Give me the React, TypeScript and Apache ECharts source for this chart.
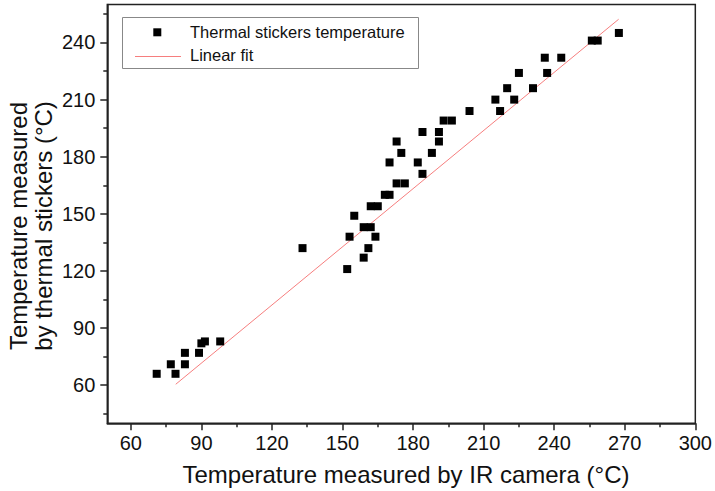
import React, { useEffect, useRef } from "react";
import * as echarts from "echarts";

// IR camera temperature (x) and thermal sticker temperature (y)
const irCamera = [
  71, 77, 79, 83, 83, 89, 90, 91.5, 98,
  133,
  152, 153, 155, 159, 161, 159, 162, 164, 162, 165,
  168, 170, 173, 176.5, 170, 175, 173, 182, 184, 184, 188, 191, 191, 193, 196.5,
  204, 215, 217, 220, 223, 225, 231, 236, 237, 243, 256, 258.5, 267.5,
];
const stickers = [
  66, 71, 66, 71, 77, 77, 82, 83, 83,
  132,
  121, 138, 149, 127, 132, 143, 143, 138, 154, 154,
  160, 160, 166, 166, 177, 182, 188, 177, 171, 193, 182, 188, 193, 199, 199,
  204, 210, 204, 216, 210, 224, 216, 232, 224, 232, 241, 241, 245,
];
// linear fit end points
const fitX = [79.1, 267.4];
const fitY = [60.5, 252.2];

const xMajorTicks = [60, 90, 120, 150, 180, 210, 240, 270, 300];
const xMinorTicks = [75, 105, 135, 165, 195, 225, 255, 285];
const yMajorTicks = [60, 90, 120, 150, 180, 210, 240];
const yMinorTicks = [45, 75, 105, 135, 165, 195, 225, 255];

const FONT = "'Liberation Sans', Arial, sans-serif";
const AXIS = "#222";
const FIT = "rgba(240,40,40,0.6)";

export default function App() {
  const ref = useRef<HTMLDivElement>(null);
  useEffect(() => {
    if (!ref.current) return;
    const chart = echarts.init(ref.current, null, { renderer: "svg" });
    const scatterData = irCamera.map((x, i) => [x, stickers[i]]);
    const fitData = fitX.map((x, i) => [x, fitY[i]]);
    const labelStyle = { fontSize: 20, color: "#111", fontFamily: FONT };
    chart.setOption({
      animation: false,
      backgroundColor: "#fff",
      grid: {
        left: 107.3,
        right: 17.7,
        top: 4.4,
        bottom: 67.7,
        show: true,
        borderColor: AXIS,
        borderWidth: 1.5,
        backgroundColor: "transparent",
      },
      xAxis: [
        {
          type: "value",
          min: 50,
          max: 300,
          position: "bottom",
          axisLine: { show: true, onZero: false, lineStyle: { color: AXIS, width: 1.5 } },
          axisTick: { show: true, inside: false, length: 7, lineStyle: { color: AXIS, width: 1.5 }, customValues: xMajorTicks },
          axisLabel: { ...labelStyle, margin: 10, customValues: xMajorTicks },
          splitLine: { show: false },
        },
        {
          type: "value",
          min: 50,
          max: 300,
          position: "bottom",
          axisLine: { show: false, onZero: false },
          axisTick: { show: true, inside: false, length: 4, lineStyle: { color: AXIS, width: 1.5 }, customValues: xMinorTicks },
          axisLabel: { show: false },
          splitLine: { show: false },
        },
      ],
      yAxis: [
        {
          type: "value",
          min: 40,
          max: 260,
          position: "left",
          axisLine: { show: true, onZero: false, lineStyle: { color: AXIS, width: 1.5 } },
          axisTick: { show: true, inside: false, length: 7, lineStyle: { color: AXIS, width: 1.5 }, customValues: yMajorTicks },
          axisLabel: { ...labelStyle, margin: 12, customValues: yMajorTicks },
          splitLine: { show: false },
        },
        {
          type: "value",
          min: 40,
          max: 260,
          position: "left",
          axisLine: { show: false, onZero: false },
          axisTick: { show: true, inside: false, length: 4, lineStyle: { color: AXIS, width: 1.5 }, customValues: yMinorTicks },
          axisLabel: { show: false },
          splitLine: { show: false },
        },
      ],
      series: [
        {
          name: "Linear fit",
          type: "line",
          data: fitData,
          showSymbol: false,
          symbol: "none",
          lineStyle: { color: FIT, width: 1 },
          z: 3,
        },
        {
          name: "Thermal stickers temperature",
          type: "scatter",
          data: scatterData,
          symbol: "rect",
          symbolSize: 8,
          itemStyle: { color: "#000", opacity: 1 },
          z: 4,
        },
      ],
      graphic: [
        {
          type: "rect",
          shape: { x: 122.5, y: 17.5, width: 296, height: 51 },
          style: { fill: "#fff", stroke: "#888", lineWidth: 1 },
          z: 10,
        },
        {
          type: "rect",
          shape: { x: 153.3, y: 28.3, width: 8, height: 8 },
          style: { fill: "#000" },
          z: 11,
        },
        {
          type: "line",
          shape: { x1: 135, y1: 56.5, x2: 181, y2: 56.5 },
          style: { stroke: FIT, lineWidth: 1.2 },
          z: 11,
        },
        {
          type: "text",
          x: 190,
          y: 32,
          style: { text: "Thermal stickers temperature", fontSize: 16.5, fontFamily: FONT, fill: "#111", verticalAlign: "middle", align: "left" },
          z: 11,
        },
        {
          type: "text",
          x: 190,
          y: 54.5,
          style: { text: "Linear fit", fontSize: 16.5, fontFamily: FONT, fill: "#111", verticalAlign: "middle", align: "left" },
          z: 11,
        },
        {
          type: "text",
          x: 406,
          y: 474,
          style: { text: "Temperature measured by IR camera (°C)", fontSize: 24, fontFamily: FONT, fill: "#111", verticalAlign: "middle", align: "center" },
        },
        {
          type: "text",
          x: 31,
          y: 226,
          rotation: Math.PI / 2,
          style: {
            text: "Temperature measured\nby thermal stickers (°C)",
            fontSize: 24,
            lineHeight: 25,
            fontFamily: FONT,
            fill: "#111",
            verticalAlign: "middle",
            align: "center",
          },
        },
      ],
    });
    return () => chart.dispose();
  }, []);
  return (
    <div
      ref={ref}
      style={{ position: "fixed", left: 0, top: 0, width: 715, height: 491, background: "#fff" }}
    />
  );
}
